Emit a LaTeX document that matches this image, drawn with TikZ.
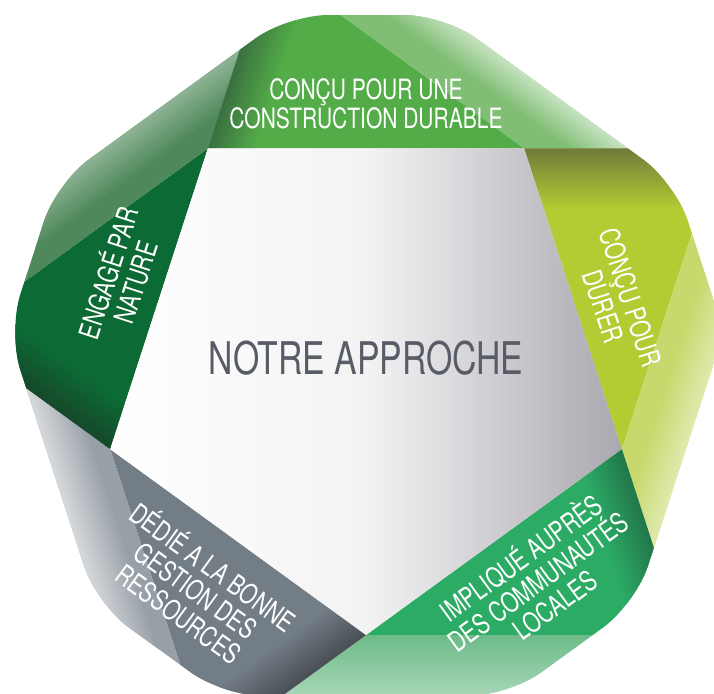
\documentclass[tikz,border=0pt]{standalone}
\usepackage{fontspec}
\setmainfont{TeX Gyre Heros}[FakeStretch=0.75]
\usepackage{tikz}
\usetikzlibrary{calc}

\definecolor{topgreen}{RGB}{83,172,72}
\definecolor{topback}{RGB}{128,190,116}
\definecolor{topcurl}{RGB}{58,112,64}
\definecolor{durergreen}{RGB}{179,204,51}
\definecolor{durerback}{RGB}{199,216,108}
\definecolor{durercurl}{RGB}{112,122,58}
\definecolor{localgreen}{RGB}{43,171,100}
\definecolor{localback}{RGB}{109,187,136}
\definecolor{localcurl}{RGB}{34,118,74}
\definecolor{ressgray}{RGB}{115,125,134}
\definecolor{ressback}{RGB}{152,160,167}
\definecolor{resscurl}{RGB}{72,78,84}
\definecolor{naturegreen}{RGB}{12,106,53}
\definecolor{natureback}{RGB}{79,137,90}
\definecolor{naturecurl}{RGB}{22,72,42}
\definecolor{approchegray}{RGB}{88,92,102}
\definecolor{pentaright}{RGB}{170,168,175}
\definecolor{pentamid}{RGB}{244,243,244}

\tikzset{
	band label/.style={text=white, align=center, font=\fontsize{28}{29}\selectfont},
}

\begin{document}
\begin{tikzpicture}[x=1pt,y=1pt]
	\useasboundingbox (-366,-327) rectangle (348,366);
	\clip (-366,-327) rectangle (348,366);
	\clip[rounded corners=40pt] (102.58:359.6) -- (77.42:359.6) -- (30.58:359.6) -- (5.42:359.6) -- (-41.42:359.6) -- (-66.58:359.6) -- (-113.42:359.6) -- (-138.58:359.6) -- (174.58:359.6) -- (149.42:359.6) -- cycle;

	\coordinate (tl) at (126:269);
	\coordinate (tr) at (54:269);
	\coordinate (r) at (-18:269);
	\coordinate (b) at (-90:269);
	\coordinate (l) at (198:269);

	\fill[topgreen] (tl) -- (tr) -- (103.61:415.16) -- cycle;
	\fill[durergreen] (tr) -- (r) -- (31.61:415.16) -- cycle;
	\fill[localgreen] (r) -- (b) -- (-40.39:415.16) -- cycle;
	\fill[ressgray] (b) -- (l) -- (-112.39:415.16) -- cycle;
	\fill[naturegreen] (l) -- (tl) -- (175.61:415.16) -- cycle;

	\begin{scope}
		\clip (tr) -- ($(tr)+(0:400)$) -- ($(tr)+(72:400)$) -- ($(tr)+(144:400)$) -- cycle;
		\fill[topback] (-366,-327) rectangle (348,366);
		\begin{scope}[transform canvas={shift={(54:330)},rotate=234}]
			\shade[left color=topback!45!white, right color=topback] (0,-300) rectangle (35,300);
		\end{scope}
	\end{scope}
	\begin{scope}
		\clip (r) -- ($(r)+(-72:400)$) -- ($(r)+(0:400)$) -- ($(r)+(72:400)$) -- cycle;
		\fill[durerback] (-366,-327) rectangle (348,366);
		\begin{scope}[transform canvas={shift={(-18:330)},rotate=162}]
			\shade[left color=durerback!55!white, right color=durerback] (0,-300) rectangle (40,300);
		\end{scope}
	\end{scope}
	\begin{scope}
		\clip (b) -- ($(b)+(-144:400)$) -- ($(b)+(-72:400)$) -- ($(b)+(0:400)$) -- cycle;
		\shade[top color=localback, bottom color=localback!60!white] (-200,-269) rectangle (300,-330);
	\end{scope}
	\begin{scope}
		\clip (l) -- ($(l)+(144:400)$) -- ($(l)+(216:400)$) -- ($(l)+(288:400)$) -- cycle;
		\fill[ressback] (-366,-327) rectangle (348,366);
		\begin{scope}[transform canvas={shift={(198:330)},rotate=18}]
			\shade[left color=ressback!40!white, right color=ressback] (0,-300) rectangle (45,300);
		\end{scope}
	\end{scope}
	\begin{scope}
		\clip (tl) -- ($(tl)+(72:400)$) -- ($(tl)+(144:400)$) -- ($(tl)+(216:400)$) -- cycle;
		\fill[natureback] (-366,-327) rectangle (348,366);
		\begin{scope}[transform canvas={shift={(126:330)},rotate=-54}]
			\shade[left color=natureback!65!white, right color=natureback] (0,-300) rectangle (40,300);
		\end{scope}
	\end{scope}

	\begin{scope}
		\clip (tl) -- (tr) -- (103.61:415.16) -- cycle;
		\begin{scope}[transform canvas={shift={(126:269)},rotate=-18}]
			\shade[left color=topcurl, right color=topgreen] (0,-20) rectangle (45,300);
		\end{scope}
	\end{scope}
	\begin{scope}
		\clip (tr) -- (r) -- (31.61:415.16) -- cycle;
		\begin{scope}[transform canvas={shift={(54:269)},rotate=-90}]
			\shade[left color=durercurl, right color=durergreen] (0,-20) rectangle (60,300);
		\end{scope}
	\end{scope}
	\begin{scope}
		\clip (r) -- (b) -- (-40.39:415.16) -- cycle;
		\begin{scope}[transform canvas={shift={(-18:269)},rotate=-162}]
			\shade[left color=localcurl, right color=localgreen] (0,-20) rectangle (45,300);
		\end{scope}
	\end{scope}
	\begin{scope}
		\clip (b) -- (l) -- (-112.39:415.16) -- cycle;
		\begin{scope}[transform canvas={shift={(-90:269)},rotate=126}]
			\shade[left color=resscurl, right color=ressgray] (0,-20) rectangle (45,300);
		\end{scope}
	\end{scope}
	\begin{scope}
		\clip (l) -- (tl) -- (175.61:415.16) -- cycle;
		\begin{scope}[transform canvas={shift={(198:269)},rotate=54}]
			\shade[left color=naturecurl, right color=naturegreen] (0,-20) rectangle (45,300);
		\end{scope}
	\end{scope}

	\shade[left color=white, right color=pentaright, middle color=pentamid] (tl) -- (tr) -- (r) -- (b) -- (l) -- cycle;

	\node[band label] (durable) at (0,262) {CONÇU POUR UNE\\CONSTRUCTION DURABLE};
	\node[band label, rotate=-72] (durer) at (251,64) {CONÇU POUR\\DURER};
	\node[band label, rotate=36] (locales) at (171,-214) {IMPLIQUÉ AUPRÈS\\DES COMMUNAUTÉS\\LOCALES};
	\node[band label, rotate=-36] (ressources) at (-169,-223) {DÉDIÉ A LA BONNE\\GESTION DES\\RESSOURCES};
	\node[band label, rotate=72] (nature) at (-246,89) {ENGAGÉ PAR\\NATURE};
	\node[text=approchegray, font=\fontsize{45}{45}\selectfont] (approche) at (0,8) {NOTRE APPROCHE};
\end{tikzpicture}
\end{document}
